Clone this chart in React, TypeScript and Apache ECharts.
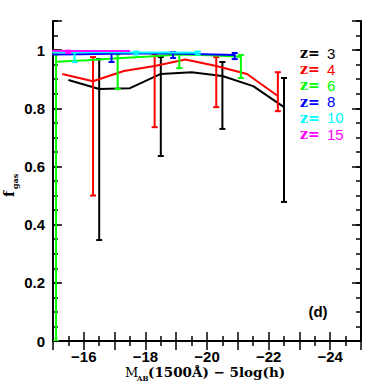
import React, { useEffect, useRef } from "react";
import * as echarts from "echarts";

// z = 3
const z3X = [-15.5, -16.5, -17.5, -18.5, -19.5, -20.5, -21.5, -22.5];
const z3Y = [0.897, 0.866, 0.869, 0.918, 0.924, 0.911, 0.876, 0.804];
const z3Err = [
  [-16.5, 0.347, 0.969],
  [-18.5, 0.636, 0.976],
  [-20.5, 0.729, 0.959],
  [-22.5, 0.478, 0.904],
];
// z = 4
const z4X = [-15.3, -16.3, -17.3, -18.3, -19.3, -20.3, -21.3, -22.3];
const z4Y = [0.918, 0.893, 0.928, 0.945, 0.968, 0.945, 0.918, 0.842];
const z4Err = [
  [-16.3, 0.5, 0.976],
  [-18.3, 0.735, 0.986],
  [-20.3, 0.804, 0.976],
  [-22.3, 0.79, 0.924],
];
// z = 6
const z6X = [-15.1, -16.1, -17.1, -18.1, -19.1, -20.1, -21.1];
const z6Y = [0.96, 0.965, 0.972, 0.978, 0.985, 0.982, 0.977];
const z6Err = [
  [-15.1, 0.0, 0.985],
  [-17.1, 0.866, 0.986],
  [-19.1, 0.938, 0.99],
  [-21.1, 0.904, 0.983],
];
// z = 8
const z8X = [-14.9, -15.9, -16.9, -17.9, -18.9, -19.9, -20.9];
const z8Y = [0.985, 0.986, 0.987, 0.988, 0.988, 0.986, 0.983];
const z8Err = [
  [-14.9, 0.96, 0.99],
  [-16.9, 0.959, 0.99],
  [-18.9, 0.973, 0.993],
  [-20.9, 0.969, 0.99],
];
// z = 10
const z10X = [-14.7, -15.7, -16.7, -17.7, -18.7, -19.7];
const z10Y = [0.993, 0.993, 0.993, 0.992, 0.992, 0.991];
const z10Err = [
  [-15.7, 0.959, 0.993],
  [-17.7, 0.985, 0.995],
  [-19.7, 0.985, 0.995],
];
// z = 15
const z15X = [-14.5, -15.5, -16.5, -17.5];
const z15Y = [0.998, 0.997, 0.997, 0.997];
const z15Err = [[-15.5, 0.99, 0.998]];

const redshifts = ["3", "4", "6", "8", "10", "15"];
const colors = ["#000000", "#ff0000", "#00ff00", "#0000ff", "#00ffff", "#ff00ff"];
const xTickLabels = [-16, -18, -20, -22, -24];
const yTickLabels = [0, 0.2, 0.4, 0.6, 0.8, 1];

const seriesXs = [z3X, z4X, z6X, z8X, z10X, z15X];
const seriesYs = [z3Y, z4Y, z6Y, z8Y, z10Y, z15Y];
const seriesErr = [z3Err, z4Err, z6Err, z8Err, z10Err, z15Err];

const sans = "Liberation Sans";
const serif = "DejaVu Serif";

export default function App() {
  const ref = useRef<HTMLDivElement>(null);
  useEffect(() => {
    if (!ref.current) return;
    const chart = echarts.init(ref.current, undefined, { renderer: "svg" });

    const axisLineStyle = { color: "#000", width: 2 };
    const fmtX = (v: number) =>
      xTickLabels.indexOf(Math.round(v)) >= 0 && Math.abs(v - Math.round(v)) < 1e-6
        ? String(v).replace("-", "\u2212")
        : "";
    const fmtY = (v: number) => {
      const r = Math.round(v * 100) / 100;
      for (const t of yTickLabels) if (Math.abs(r - t) < 1e-6) return String(t);
      return "";
    };

    const xBase = {
      type: "value" as const,
      min: -25,
      max: -15,
      inverse: true,
      interval: 1,
      axisLine: { show: true, lineStyle: axisLineStyle },
      axisTick: { show: true, inside: true, length: 9, lineStyle: { color: "#000", width: 1.5 } },
      minorTick: { show: true, splitNumber: 2, length: 5, lineStyle: { color: "#000", width: 1.5 } },
      splitLine: { show: false },
      minorSplitLine: { show: false },
    };
    const yMinor = {
      type: "value" as const,
      min: 0,
      max: 1.1,
      interval: 0.05,
      axisLine: { show: true, lineStyle: axisLineStyle },
      axisTick: { show: true, inside: true, length: 5, lineStyle: { color: "#000", width: 1.5 } },
      splitLine: { show: false },
    };
    const yMajor = {
      type: "value" as const,
      min: 0,
      max: 1.1,
      interval: 0.2,
      axisLine: { show: false },
      axisTick: { show: true, inside: true, length: 9, lineStyle: { color: "#000", width: 1.5 } },
      axisLabel: { show: false },
      splitLine: { show: false },
    };

    const series: any[] = [];
    for (let i = 0; i < seriesXs.length; i++) {
      const xs = seriesXs[i];
      const ys = seriesYs[i];
      series.push({
        type: "line",
        xAxisIndex: 0,
        yAxisIndex: 0,
        data: xs.map((x, k) => [x, ys[k]]),
        showSymbol: false,
        symbol: "none",
        clip: true,
        lineStyle: { color: colors[i], width: 2 },
        z: 2 + i,
      });
      const col = colors[i];
      series.push({
        type: "custom",
        xAxisIndex: 0,
        yAxisIndex: 0,
        clip: true,
        z: 2 + i,
        data: seriesErr[i],
        encode: { x: 0, y: [1, 2] },
        renderItem: (params: any, api: any) => {
          const x = api.value(0);
          const lo = api.value(1);
          const hi = api.value(2);
          const pLo = api.coord([x, lo]);
          const pHi = api.coord([x, hi]);
          const c = 3;
          const st = { stroke: col, lineWidth: 2 };
          return {
            type: "group",
            children: [
              { type: "line", shape: { x1: pLo[0], y1: pLo[1], x2: pHi[0], y2: pHi[1] }, style: st },
              { type: "line", shape: { x1: pLo[0] - c, y1: pLo[1], x2: pLo[0] + c, y2: pLo[1] }, style: st },
              { type: "line", shape: { x1: pHi[0] - c, y1: pHi[1], x2: pHi[0] + c, y2: pHi[1] }, style: st },
            ],
          };
        },
      });
    }

    const legendTexts: any[] = [];
    redshifts.forEach((z, i) => {
      const y = 53 + i * 16.2;
      legendTexts.push({
        type: "text",
        x: 300,
        y,
        style: {
          text: "z=",
          fill: colors[i],
          font: `bold 14px "${serif}"`,
          verticalAlign: "middle",
          align: "left",
        },
      });
      legendTexts.push({
        type: "text",
        x: 327,
        y,
        style: {
          text: z,
          fill: colors[i],
          font: `15px "${sans}"`,
          verticalAlign: "middle",
          align: "left",
        },
      });
    });

    chart.setOption({
      animation: false,
      backgroundColor: "#fff",
      grid: { left: 53, right: 21, top: 21, bottom: 41, containLabel: false },
      xAxis: [
        {
          ...xBase,
          position: "bottom",
          axisLabel: {
            show: true,
            formatter: fmtX,
            margin: 8,
            color: "#000",
            fontFamily: sans,
            fontSize: 15,
            fontWeight: "bold",
          },
        },
        { ...xBase, position: "top", axisLabel: { show: false } },
      ],
      yAxis: [
        {
          ...yMinor,
          position: "left",
          axisLabel: {
            show: true,
            formatter: fmtY,
            margin: 8,
            color: "#000",
            fontFamily: sans,
            fontSize: 15,
            fontWeight: "bold",
          },
        },
        { ...yMajor, position: "left" },
        { ...yMinor, position: "right", axisLabel: { show: false } },
        { ...yMajor, position: "right" },
      ],
      series,
      graphic: [
        ...legendTexts,
        {
          type: "text",
          x: 318,
          y: 311,
          style: {
            text: "(d)",
            fill: "#000",
            font: `bold 15px "${sans}"`,
            align: "center",
            verticalAlign: "middle",
          },
        },
        {
          type: "group",
          x: 125,
          y: 0,
          children: [
            { type: "text", x: 0, y: 372, style: { text: "M", fill: "#000", font: `13px "${serif}"`, verticalAlign: "middle", align: "left" } },
            { type: "text", x: 12, y: 378, style: { text: "AB", fill: "#000", font: `bold 7px "${serif}"`, verticalAlign: "middle", align: "left" } },
            { type: "text", x: 23, y: 372, style: { text: "(1500\u00c5) \u2212 5log(h)", fill: "#000", font: `bold 13.5px "${serif}"`, verticalAlign: "middle", align: "left" } },
          ],
        },
        {
          type: "group",
          x: 0,
          y: 197,
          rotation: Math.PI / 2,
          children: [
            { type: "text", x: 0, y: 9, style: { text: "f", fill: "#000", font: `bold 14px "${serif}"`, verticalAlign: "middle", align: "left" } },
            { type: "text", x: 8, y: 15, style: { text: "gas", fill: "#000", font: `bold 8px "${serif}"`, verticalAlign: "middle", align: "left" } },
          ],
        },
      ],
    });
    return () => chart.dispose();
  }, []);
  return (
    <div
      ref={ref}
      style={{ position: "absolute", left: 0, top: 0, width: 382, height: 382, background: "#fff" }}
    />
  );
}
